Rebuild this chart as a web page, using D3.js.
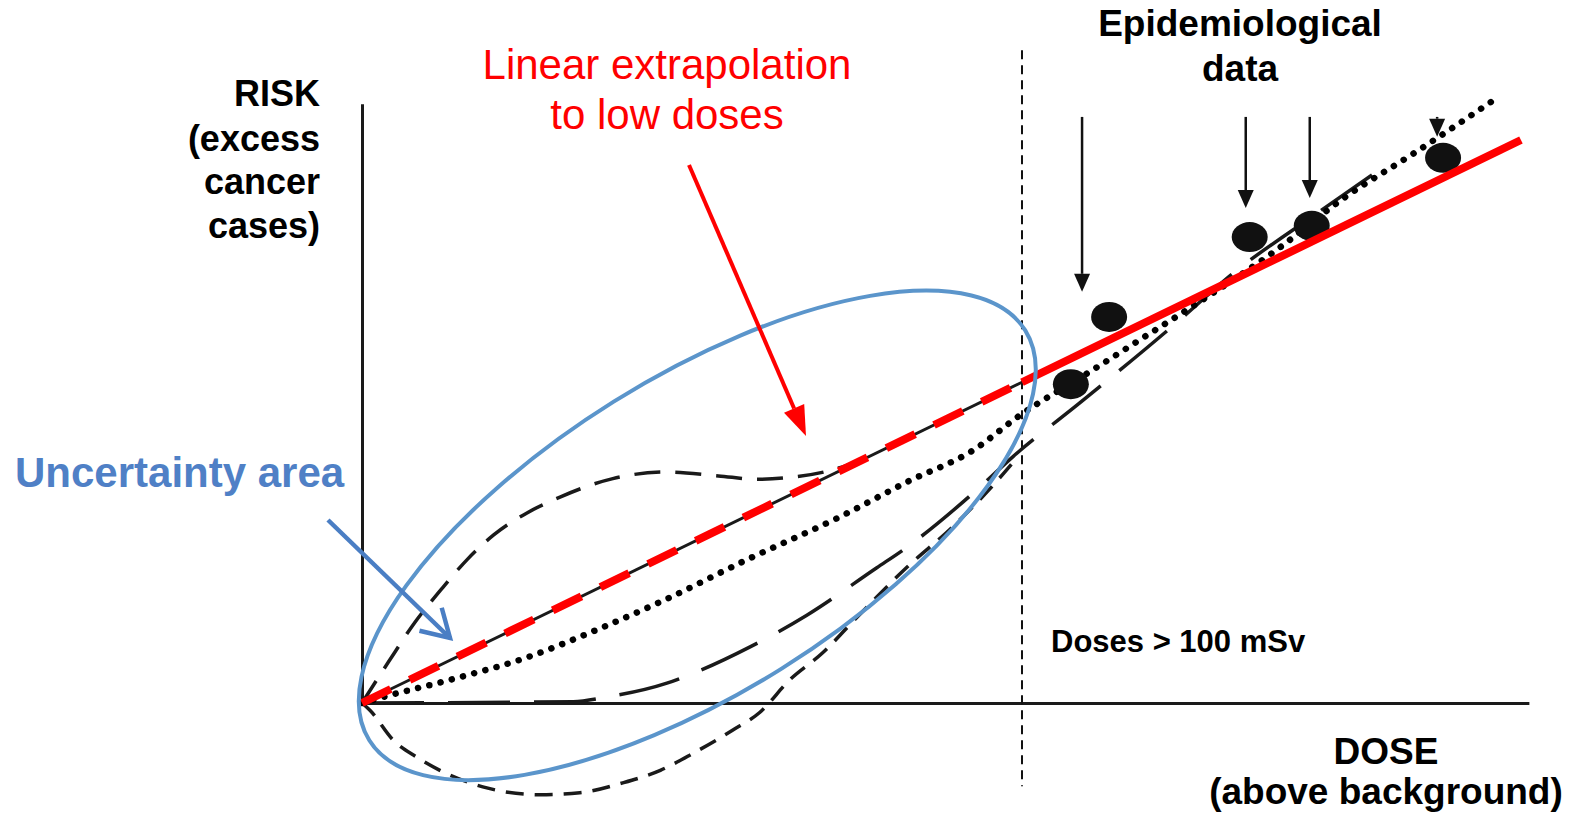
<!DOCTYPE html>
<html>
<head>
<meta charset="utf-8">
<script src="https://cdn.jsdelivr.net/npm/d3@7"></script>
<style>
  body { margin: 0; background: #fff; }
  svg { display: block; font-family: "Liberation Sans", Arial, sans-serif; }
</style>
</head>
<body>
<div id="chart"></div>
<script>
// dose in mSv (dashed line = 100 mSv), risk in arbitrary units
const linearFit = [[0, 0], [100, 48.6], [175.6, 85.3]];
const linearQuadratic = [[0, 0], [3.2, 0.9], [14.4, 3.8], [24.4, 6.7], [35.6, 11.1], [45.6, 15.5],
  [58.3, 21.7], [72.4, 28.2], [82.6, 33.5], [92.6, 38.3], [99.7, 43.6], [110.3, 50.2],
  [118.6, 55.5], [128.0, 61.5], [138.5, 68.6], [148.9, 76.6], [159.4, 83.3], [172.0, 91.7]];
const supraLinear = [[0, 0], [4, 6.2], [8, 12.2], [12, 17.2], [16, 21.8], [20, 25.5], [25, 28.8],
  [30, 31.2], [38, 34.0], [46, 35.0], [54, 34.4], [60, 33.9], [65, 34.2], [70, 35.0], [76, 36.9]];
const threshold = [[0, 0], [32.0, 0.2], [37.1, 0.9], [46.2, 3.0], [50.2, 4.5], [58.8, 8.5],
  [67.4, 13.3], [78.0, 20.5], [82.0, 23.2], [92.6, 31.8], [98.6, 37.3], [108.8, 45.5],
  [122.7, 57.0], [132.1, 65.2], [144.7, 74.2], [155.2, 81.5]];
const hormesis = [[0, 0], [1.2, -1.1], [4.7, -5.6], [8.3, -8.2], [11.8, -10.2], [18.3, -12.7],
  [27.0, -13.9], [33.0, -13.6], [39.5, -12.1], [45.2, -10.2], [50.2, -7.6], [56.2, -4.1],
  [60.3, -1.4], [64.8, 3.5], [69.8, 7.6], [75.0, 13.0], [82.6, 20.6], [89.5, 26.7],
  [96.7, 34.2], [98.6, 36.4]];
const epiPoints = [[107.4, 48.3], [113.2, 58.5], [134.5, 70.6], [143.9, 72.3], [163.8, 82.6]];
// arrows: dose, top risk, tip risk
const epiArrows = [[109.1, 88.8, 62.3], [133.9, 88.8, 75.0], [143.6, 88.8, 76.5], [162.9, 88.8, 85.8]];
const lowDoseLimit = 100;
const uncertainty = { dose: 50.8, risk: 25.4, rDose: 58.6, rRisk: 23.9, angle: 32 };

const width = 1577, height = 813;
const x = d3.scaleLinear().domain([0, 100]).range([362, 1022]);
const y = d3.scaleLinear().domain([0, 100]).range([703, 43]);

const svg = d3.select("#chart").append("svg")
  .attr("width", width)
  .attr("height", height);

function drawAxes(selection) {
  const xAxis = d3.axisBottom(x.copy().domain([0, 176.8]).range([x(0), x(176.8)]))
    .tickValues([]).tickSizeOuter(0);
  const yAxis = d3.axisLeft(y.copy().domain([0, 90.8]).range([y(0), y(90.8)]))
    .tickValues([]).tickSizeOuter(0);
  selection.append("g")
    .attr("transform", `translate(0,${y(0)})`)
    .call(xAxis)
    .select(".domain").attr("stroke", "#1a1a1a").attr("stroke-width", 3);
  selection.append("g")
    .attr("transform", `translate(${x(0)},0)`)
    .call(yAxis)
    .select(".domain").attr("stroke", "#1a1a1a").attr("stroke-width", 3);
}

function drawCurve(selection, data, dash, strokeWidth, color, cap) {
  const line = d3.line()
    .x(d => x(d[0]))
    .y(d => y(d[1]))
    .curve(d3.curveMonotoneX);
  selection.append("path")
    .datum(data)
    .attr("d", line)
    .attr("fill", "none")
    .attr("stroke", color)
    .attr("stroke-width", strokeWidth)
    .attr("stroke-dasharray", dash)
    .attr("stroke-linecap", cap || "butt");
}

function drawArrow(selection, x1, y1, x2, y2, color, w, headLen, headHalf, open) {
  const ang = Math.atan2(y2 - y1, x2 - x1);
  const bx = x2 - headLen * Math.cos(ang), by = y2 - headLen * Math.sin(ang);
  const px = -Math.sin(ang) * headHalf, py = Math.cos(ang) * headHalf;
  if (open) {
    selection.append("line")
      .attr("x1", x1).attr("y1", y1).attr("x2", x2).attr("y2", y2)
      .attr("stroke", color).attr("stroke-width", w);
    selection.append("path")
      .attr("d", `M${bx + px},${by + py}L${x2},${y2}L${bx - px},${by - py}`)
      .attr("fill", "none").attr("stroke", color).attr("stroke-width", w)
      .attr("stroke-linejoin", "miter");
  } else {
    selection.append("line")
      .attr("x1", x1).attr("y1", y1).attr("x2", bx).attr("y2", by)
      .attr("stroke", color).attr("stroke-width", w);
    selection.append("path")
      .attr("d", `M${bx + px},${by + py}L${x2},${y2}L${bx - px},${by - py}Z`)
      .attr("fill", color);
  }
}

function drawText(selection, lines, opts) {
  const t = selection.append("text")
    .attr("text-anchor", opts.anchor)
    .attr("fill", opts.color)
    .attr("font-weight", opts.weight)
    .style("font-size", opts.size + "px");
  lines.forEach((s, i) => {
    t.append("tspan").attr("x", opts.x).attr("y", opts.y[i]).text(s);
  });
}

const plot = svg.append("g").attr("class", "plot");

drawAxes(plot);

// vertical 100 mSv limit
plot.append("line")
  .attr("x1", x(lowDoseLimit)).attr("x2", x(lowDoseLimit))
  .attr("y1", y(98.9)).attr("y2", y(-12.6))
  .attr("stroke", "#111").attr("stroke-width", 2)
  .attr("stroke-dasharray", "9 6");

drawCurve(plot, supraLinear, "26 15", 3.5, "#1a1a1a");
drawCurve(plot, threshold, "62 24", 3.5, "#1a1a1a");
drawCurve(plot, hormesis, "18 11", 3.5, "#1a1a1a");
drawCurve(plot, linearFit.filter(d => d[0] <= lowDoseLimit), null, 3, "#1a1a1a");
drawCurve(plot, linearQuadratic, "0.1 11.5", 6.5, "#000", "round");

// epidemiological data points and arrows
plot.selectAll("ellipse.epi")
  .data(epiPoints)
  .enter()
  .append("ellipse")
  .attr("class", "epi")
  .attr("cx", d => x(d[0]))
  .attr("cy", d => y(d[1]))
  .attr("rx", 18)
  .attr("ry", 15)
  .attr("fill", "#111");

epiArrows.forEach(d => {
  drawArrow(plot, x(d[0]), y(d[1]), x(d[0]), y(d[2]), "#111", 2.5, 18, 8, false);
});

// LNT line: dashed at low doses, solid above
drawCurve(plot, linearFit.filter(d => d[0] <= lowDoseLimit), "32 21", 8, "#ff0000");
drawCurve(plot, linearFit.filter(d => d[0] >= lowDoseLimit), null, 8, "#ff0000");

// uncertainty ellipse
plot.append("ellipse")
  .attr("cx", x(uncertainty.dose))
  .attr("cy", y(uncertainty.risk))
  .attr("rx", x(uncertainty.rDose) - x(0))
  .attr("ry", y(0) - y(uncertainty.rRisk))
  .attr("transform", `rotate(${-uncertainty.angle},${x(uncertainty.dose)},${y(uncertainty.risk)})`)
  .attr("fill", "none")
  .attr("stroke", "#5b95cb")
  .attr("stroke-width", 4);

// annotation arrows
drawArrow(plot, 328, 520, 450, 638, "#4a7ec4", 4.5, 27, 16, true);
drawArrow(plot, 689, 165, 806, 436, "#ff0000", 4, 30, 11, false);

// texts
drawText(svg, ["RISK", "(excess", "cancer", "cases)"],
  { x: 320, y: [106, 151, 194, 238], anchor: "end", color: "#000", weight: "bold", size: 36 });
drawText(svg, ["Linear extrapolation", "to low doses"],
  { x: 667, y: [79, 129], anchor: "middle", color: "#ff0000", weight: "normal", size: 42 });
drawText(svg, ["Epidemiological", "data"],
  { x: 1240, y: [36, 81], anchor: "middle", color: "#000", weight: "bold", size: 37 });
drawText(svg, ["Uncertainty area"],
  { x: 15, y: [487], anchor: "start", color: "#4f80c6", weight: "bold", size: 42 });
drawText(svg, ["Doses > 100 mSv"],
  { x: 1051, y: [652], anchor: "start", color: "#000", weight: "bold", size: 31 });
drawText(svg, ["DOSE", "(above background)"],
  { x: 1386, y: [764, 804], anchor: "middle", color: "#000", weight: "bold", size: 37 });
</script>
</body>
</html>
